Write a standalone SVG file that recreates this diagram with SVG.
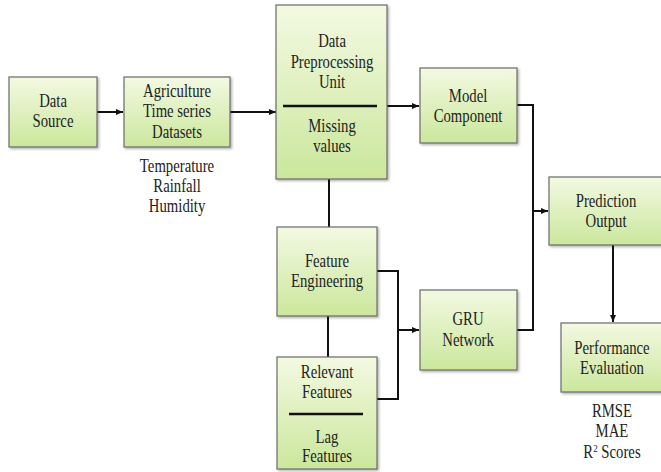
<svg xmlns="http://www.w3.org/2000/svg" width="661" height="472" viewBox="0 0 661 472">
<defs>
<linearGradient id="g" x1="0" y1="0" x2="0" y2="1">
<stop offset="0" stop-color="#f3f9e2"/>
<stop offset="1" stop-color="#cbe79c"/>
</linearGradient>
<marker id="ah" markerWidth="8" markerHeight="8" refX="7" refY="4" orient="auto" markerUnits="userSpaceOnUse">
<path d="M0,1 L7,4 L0,7 z" fill="#111"/>
</marker>
<filter id="sh" x="-10%" y="-10%" width="130%" height="130%">
<feDropShadow dx="1.5" dy="1.5" stdDeviation="1" flood-color="#000" flood-opacity="0.3"/>
</filter>
</defs>
<style>
.box{fill:url(#g);stroke:#6b6b6b;stroke-width:1.2;filter:url(#sh)}
.t{font-family:"Liberation Serif","Times New Roman",serif;font-size:18px;fill:#222;text-anchor:middle;transform-box:fill-box;transform-origin:center;transform:scaleX(0.82)}
.c{fill:none;stroke:#111;stroke-width:2}
.div{stroke:#111;stroke-width:2.5}
</style>
<rect width="661" height="472" fill="#fff"/>
<g id="connectors">
<line class="c" x1="97" y1="112" x2="123" y2="112" marker-end="url(#ah)"/>
<line class="c" x1="230" y1="112" x2="276" y2="112" marker-end="url(#ah)"/>
<line class="c" x1="387" y1="106" x2="419" y2="106" marker-end="url(#ah)"/>
<line class="c" x1="329" y1="179" x2="329" y2="227"/>
<line class="c" x1="328" y1="316" x2="328" y2="357"/>
<polyline class="c" points="377,271 398,271 398,399 377,399"/>
<line class="c" x1="398" y1="330" x2="419" y2="330" marker-end="url(#ah)"/>
<polyline class="c" points="517,105 533,105 533,330 517,330"/>
<line class="c" x1="533" y1="211" x2="548" y2="211" marker-end="url(#ah)"/>
<line class="c" x1="613" y1="245" x2="613" y2="322" marker-end="url(#ah)"/>
</g>
<g id="data-source">
<rect class="box" x="9" y="77" width="88" height="70"/>
<text class="t" x="53" y="107">Data</text>
<text class="t" x="53" y="127">Source</text>
</g>
<g id="agri-datasets">
<rect class="box" x="124" y="77" width="106" height="70"/>
<text class="t" x="177" y="97">Agriculture</text>
<text class="t" x="177" y="117">Time series</text>
<text class="t" x="177" y="138">Datasets</text>
<text class="t" x="177" y="172">Temperature</text>
<text class="t" x="177" y="192">Rainfall</text>
<text class="t" x="177" y="212">Humidity</text>
</g>
<g id="preprocessing">
<rect class="box" x="276" y="5" width="111" height="174"/>
<text class="t" x="332" y="47">Data</text>
<text class="t" x="332" y="68">Preprocessing</text>
<text class="t" x="332" y="88">Unit</text>
<line class="div" x1="283" y1="106" x2="377" y2="106"/>
<text class="t" x="332" y="132">Missing</text>
<text class="t" x="332" y="152">values</text>
</g>
<g id="model-component">
<rect class="box" x="420" y="68" width="97" height="75"/>
<text class="t" x="468" y="102">Model</text>
<text class="t" x="468" y="122">Component</text>
</g>
<g id="feature-engineering">
<rect class="box" x="277" y="227" width="100" height="89"/>
<text class="t" x="327" y="267">Feature</text>
<text class="t" x="327" y="287">Engineering</text>
</g>
<g id="features">
<rect class="box" x="277" y="357" width="100" height="112"/>
<text class="t" x="327" y="378">Relevant</text>
<text class="t" x="327" y="398">Features</text>
<line class="div" x1="289" y1="414" x2="363" y2="414"/>
<text class="t" x="327" y="443">Lag</text>
<text class="t" x="327" y="462">Features</text>
</g>
<g id="gru-network">
<rect class="box" x="420" y="290" width="97" height="80"/>
<text class="t" x="468" y="325">GRU</text>
<text class="t" x="468" y="346">Network</text>
</g>
<g id="prediction-output">
<rect class="box" x="549" y="177" width="125" height="68"/>
<text class="t" x="606" y="207">Prediction</text>
<text class="t" x="606" y="227">Output</text>
</g>
<g id="performance-evaluation">
<rect class="box" x="561" y="323" width="113" height="69"/>
<text class="t" x="612" y="354">Performance</text>
<text class="t" x="612" y="374">Evaluation</text>
<text class="t" x="612" y="417">RMSE</text>
<text class="t" x="612" y="437">MAE</text>
<text class="t" x="612" y="458">R<tspan font-size="11" dy="-6">2</tspan><tspan dy="6"> Scores</tspan></text>
</g>
</svg>
